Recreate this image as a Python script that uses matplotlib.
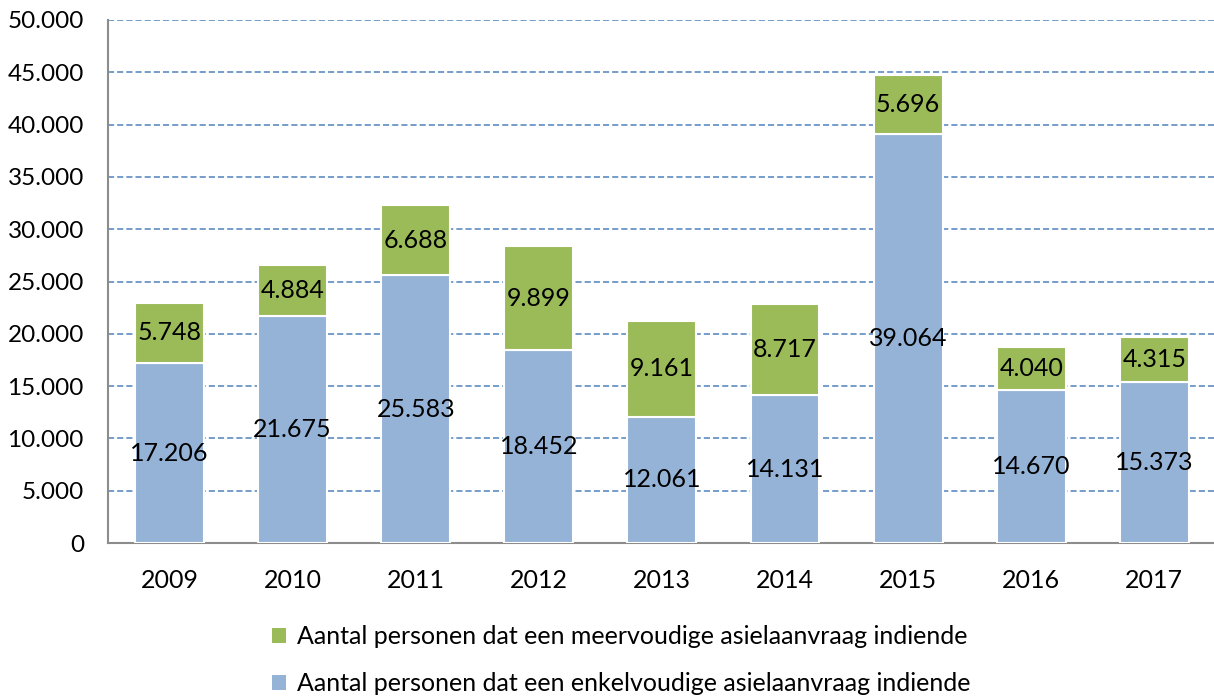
import numpy as np
import matplotlib.pyplot as plt

plt.rcParams['font.family'] = ['Lato', 'DejaVu Sans']

# --- Data ---
years = ["2009", "2010", "2011", "2012", "2013", "2014", "2015", "2016", "2017"]
enkelvoudig = [17206, 21675, 25583, 18452, 12061, 14131, 39064, 14670, 15373]
meervoudig = [5748, 4884, 6688, 9899, 9161, 8717, 5696, 4040, 4315]

label_enkel = "Aantal personen dat een enkelvoudige asielaanvraag indiende"
label_meer = "Aantal personen dat een meervoudige asielaanvraag indiende"

blue = "#95B3D7"
green = "#9BBB59"


def nl(v):
    # dutch thousands separator
    return f"{v:,.0f}".replace(",", ".")


fig = plt.figure(figsize=(12.14, 6.97), dpi=100)
ax = fig.add_axes([107.5 / 1214, 1 - 543 / 697, 1 - 107.5 / 1214, (543 - 20) / 697])

x = np.arange(len(years))
w = 0.56
b1 = ax.bar(x, enkelvoudig, w, color=blue, edgecolor="white", linewidth=1.5,
            label=label_enkel, zorder=3)
b2 = ax.bar(x, meervoudig, w, bottom=enkelvoudig, color=green, edgecolor="white",
            linewidth=1.5, label=label_meer, zorder=3)

for xi, e, m in zip(x, enkelvoudig, meervoudig):
    ax.text(xi, e / 2, nl(e), ha="center", va="center", fontsize=18, zorder=4)
    ax.text(xi, e + m / 2, nl(m), ha="center", va="center", fontsize=18, zorder=4)

# --- Axes styling ---
ax.set_xlim(-0.504, 8.485)
ax.set_ylim(0, 50000)
ax.set_yticks(np.arange(0, 50001, 5000))
ax.set_yticklabels([nl(v) for v in np.arange(0, 50001, 5000)], fontsize=17.5)
ax.set_xticks(x)
ax.set_xticklabels(years, fontsize=18)
ax.tick_params(axis="y", length=0, pad=17)
ax.tick_params(axis="x", length=0, pad=19)
ax.yaxis.grid(True, color="#4F81BD", linestyle=(0, (4, 2)), linewidth=1.1, zorder=0)
for s in ["top", "right"]:
    ax.spines[s].set_visible(False)
for s in ["left", "bottom"]:
    ax.spines[s].set_color("#8C8C8C")
    ax.spines[s].set_linewidth(1.5)

handles = [b2, b1]
leg = fig.legend(handles, [label_meer, label_enkel], loc="center",
                 bbox_to_anchor=(0.512, 1 - 660 / 697), ncol=1, frameon=False,
                 fontsize=18, handlelength=0.55, handleheight=0.55,
                 handletextpad=0.45, labelspacing=0.95)
for h in leg.legend_handles:
    h.set_edgecolor("none")

fig.savefig("out.png", dpi=100)
